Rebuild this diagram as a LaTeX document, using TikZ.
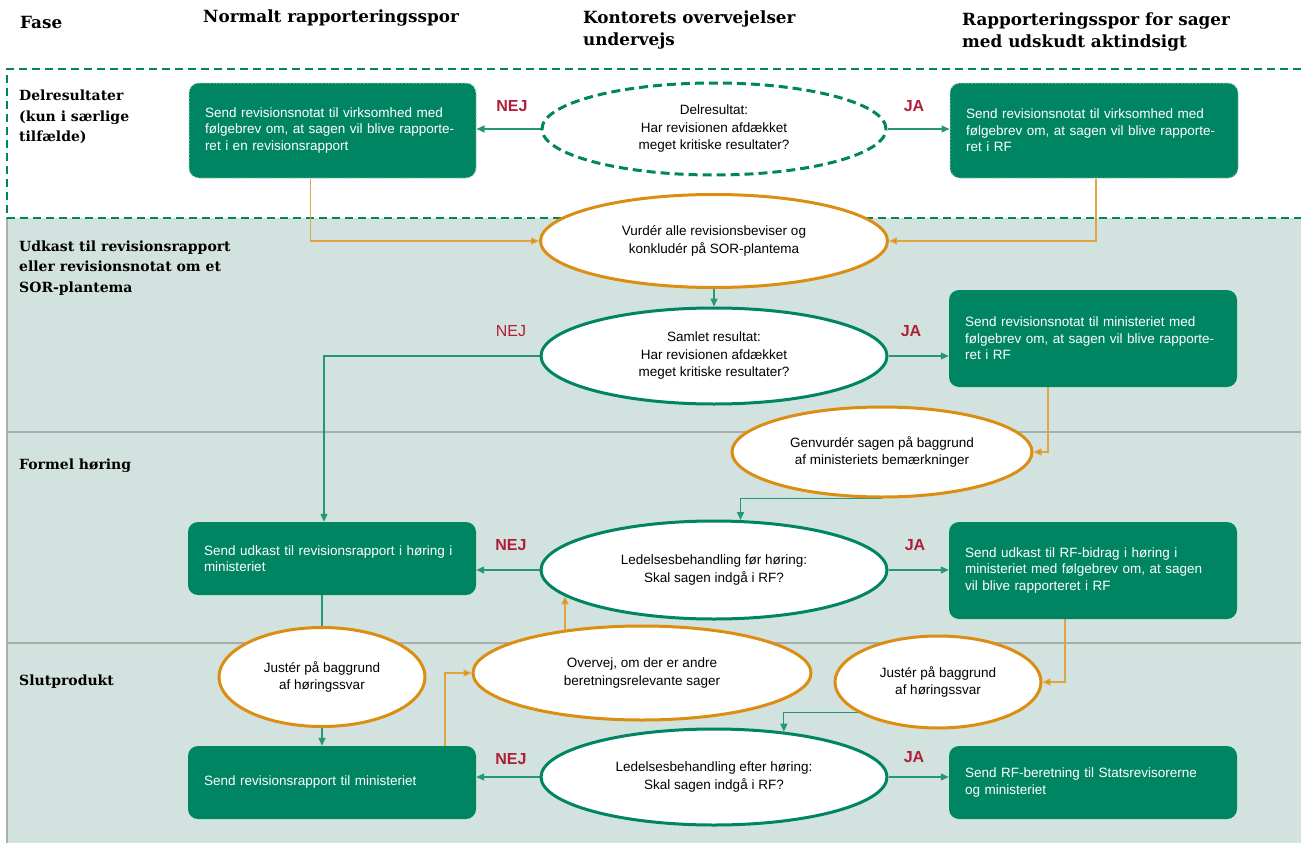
\documentclass[tikz,border=0pt]{standalone}
\usepackage{fontspec}
\setmainfont{Liberation Sans}
\newfontfamily\hdrfont{DejaVu Serif}
\usetikzlibrary{shapes.geometric,arrows.meta}
\definecolor{rgreen}{RGB}{0,133,99}
\definecolor{rorange}{RGB}{219,142,18}
\definecolor{lorange}{RGB}{226,164,66}
\definecolor{lgreen}{RGB}{38,150,118}
\definecolor{rred}{RGB}{176,30,58}
\definecolor{bgc}{RGB}{210,226,222}
\definecolor{sepc}{RGB}{168,174,172}
\pgfdeclarelayer{panel}
\pgfdeclarelayer{conn}
\pgfsetlayers{panel,conn,main}
\tikzset{
  boxnode/.style={rounded corners=10pt, fill=rgreen, text=white, align=left,
    font=\fontsize{13.5}{16.5}\selectfont, inner xsep=16pt, inner ysep=0pt,
    text width=#1, minimum height=20pt},
  dbox/.style={draw=white!60!rgreen, line width=1pt, dash pattern=on 1.5pt off 2pt},
  ell/.style={ellipse, fill=white, inner sep=0pt, align=center, line width=3pt,
    font=\fontsize{13.5}{17.5}\selectfont},
  gell/.style={ell, draw=rgreen},
  oell/.style={ell, draw=rorange},
  yesno/.style={text=rred, font=\fontsize{16}{18}\selectfont\bfseries, inner sep=0pt},
  phase/.style={anchor=west, align=left, inner sep=0pt, font=\hdrfont\bfseries\fontsize{14}{20.5}\selectfont},
  header/.style={anchor=west, align=left, inner sep=0pt, font=\hdrfont\bfseries\fontsize{16.8}{22.5}\selectfont},
  gline/.style={draw=lgreen, line width=1.2pt},
  garrow/.style={gline, -{Triangle[length=8pt,width=7pt]}},
  oline/.style={draw=lorange, line width=1.2pt},
  oarrow/.style={oline, -{Triangle[length=8pt,width=7pt,fill=rorange]}},
}
\begin{document}
\begin{tikzpicture}[x=1pt,y=-1pt]
\useasboundingbox (0,0) rectangle (1301,843);
\begin{pgfonlayer}{panel}
\fill[white] (0,0) rectangle (1301,843);
\fill[bgc] (7,218) rectangle (1301,843);
\draw[sepc, line width=1.2pt] (7,218) -- (7,843);
\draw[sepc, line width=1.2pt] (7,432) -- (1301,432);
\draw[sepc, line width=1.2pt] (7,643) -- (1301,643);
\draw[rgreen, line width=2.5pt, dash pattern=on 8pt off 5pt] (1301,69) -- (7,69) -- (7,218) -- (1301,218);
\end{pgfonlayer}

% headers
\node[header] (hfase) at (20,22) {Fase};
\node[header] (hnorm) at (203,18) {Normalt rapporteringsspor};
\node[header] (hkont) at (583,30) {Kontorets overvejelser\\undervejs};
\node[header] (hrapp) at (962,32) {Rapporteringsspor for sager\\med udskudt aktindsigt};

% phases
\node[phase] (p1) at (19,117) {Delresultater\\(kun i særlige\\tilfælde)};
\node[phase] (p2) at (19,268) {Udkast til revisionsrapport\\eller revisionsnotat om et\\SOR-plantema};
\node[phase] (p3) at (19,466) {Formel høring};
\node[phase] (p4) at (19,682) {Slutprodukt};

% boxes
\node[boxnode=255pt, dbox, minimum height=95pt] (A1) at (332.5,130.5)
  {Send revisionsnotat til virksomhed med\\følgebrev om, at sagen vil blive rapporte-\\ret i en revisionsrapport};
\node[boxnode=256pt, dbox, minimum height=95pt] (B1) at (1094,130.5)
  {Send revisionsnotat til virksomhed med\\følgebrev om, at sagen vil blive rapporte-\\ret i RF};
\node[boxnode=256pt, minimum height=97pt] (B2) at (1093,338.5)
  {Send revisionsnotat til ministeriet med\\følgebrev om, at sagen vil blive rapporte-\\ret i RF};
\node[boxnode=256pt, minimum height=73pt] (A2) at (332,558.5)
  {Send udkast til revisionsrapport i høring i\\ministeriet};
\node[boxnode=256pt, minimum height=97pt] (B3) at (1093,570.5)
  {Send udkast til RF-bidrag i høring i\\ministeriet med følgebrev om, at sagen\\vil blive rapporteret i RF};
\node[boxnode=256pt, minimum height=73pt] (A3) at (332,782.5)
  {Send revisionsrapport til ministeriet};
\node[boxnode=256pt, minimum height=73pt] (B4) at (1093,782.5)
  {Send RF-beretning til Statsrevisorerne\\og ministeriet};

% ellipses
\node[ell, draw=rgreen, dash pattern=on 9pt off 5pt, minimum width=344pt, minimum height=92pt] (E1) at (714,129)
  {Delresultat:\\Har revisionen afdækket\\meget kritiske resultater?};
\node[oell, minimum width=347pt, minimum height=93pt] (E2) at (714,241)
  {Vurdér alle revisionsbeviser og\\konkludér på SOR-plantema};
\node[gell, minimum width=346pt, minimum height=96pt] (E3) at (714,356)
  {Samlet resultat:\\Har revisionen afdækket\\meget kritiske resultater?};
\node[oell, minimum width=300pt, minimum height=90pt] (E4) at (882,452)
  {Genvurdér sagen på baggrund\\af ministeriets bemærkninger};
\node[gell, minimum width=346pt, minimum height=98pt] (E5) at (714,570)
  {Ledelsesbehandling før høring:\\Skal sagen indgå i RF?};
\node[oell, minimum width=206pt, minimum height=99pt] (E6) at (322,677)
  {Justér på baggrund\\af høringssvar};
\node[oell, minimum width=338pt, minimum height=94pt] (E7) at (642,673)
  {Overvej, om der er andre\\beretningsrelevante sager};
\node[oell, minimum width=206pt, minimum height=92pt] (E8) at (938,682)
  {Justér på baggrund\\af høringssvar};
\node[gell, minimum width=346pt, minimum height=96pt] (E9) at (714,777)
  {Ledelsesbehandling efter høring:\\Skal sagen indgå i RF?};

% labels
\node[yesno] (n1) at (512,106) {NEJ};
\node[yesno] (j1) at (914,106) {JA};
\node[yesno, font=\fontsize{16}{18}\selectfont] (n2) at (511,331) {NEJ};
\node[yesno] (j2) at (911,331) {JA};
\node[yesno] (n3) at (511,545) {NEJ};
\node[yesno] (j3) at (915,545) {JA};
\node[yesno] (n4) at (511,759) {NEJ};
\node[yesno] (j4) at (914,757) {JA};

% connectors
\begin{pgfonlayer}{conn}
\draw[garrow] (E1.west) -- (E1.west -| A1.east);
\draw[garrow] (E1.east) -- (E1.east -| B1.west);
\draw[oarrow] ([xshift=-22pt]A1.south) |- (E2.west);
\draw[oarrow] ([xshift=2pt]B1.south) |- (E2.east);
\draw[garrow] (E2.south) -- (E3.north);
\draw[garrow] (E3.east) -- (E3.east -| B2.west);
\draw[garrow] (E3.west) -| ([xshift=-8pt]A2.north);
\draw[oarrow] ([xshift=-45pt]B2.south) |- (E4.east);
\draw[garrow] (E4.south) -| (E5.62.7);
\draw[garrow] (E5.west) -- (E5.west -| A2.east);
\draw[garrow] (E5.east) -- (E5.east -| B3.west);
\draw[gline] (E6.north |- A2.south) -- (E6.north);
\draw[garrow] (E6.south) -- (E6.south |- A3.north);
\draw[oarrow] ([xshift=113pt]A3.north) |- (E7.west);
\draw[oarrow] (E7.center -| E5.190.1) -- (E5.190.1);
\draw[oarrow] ([xshift=-28pt]B3.south) |- (E8.east);
\draw[garrow] (E8.201) -| (E9.33.5);
\draw[garrow] (E9.west) -- (E9.west -| A3.east);
\draw[garrow] (E9.east) -- (E9.east -| B4.west);
\end{pgfonlayer}
\end{tikzpicture}
\end{document}
